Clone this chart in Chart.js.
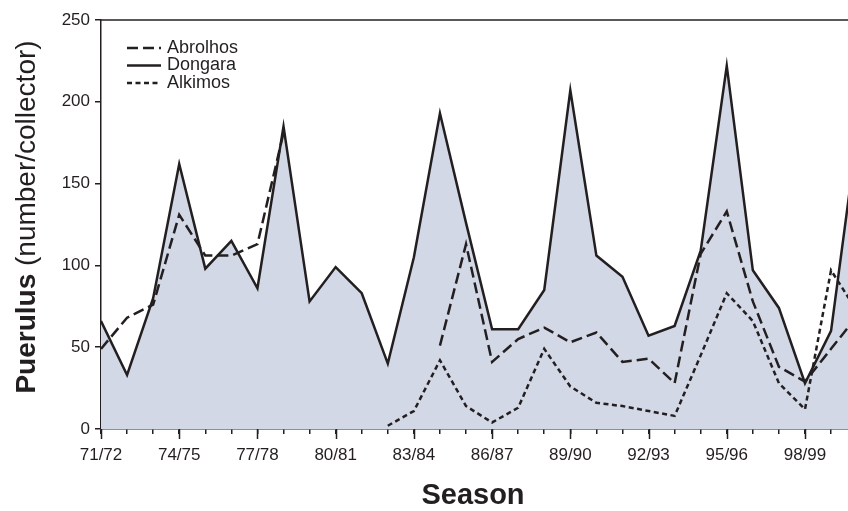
<!DOCTYPE html>
<html>
<head>
<meta charset="utf-8">
<script src="https://cdn.jsdelivr.net/npm/chart.js@4"></script>
<style>
  html, body { margin: 0; padding: 0; background: #ffffff; }
  #wrap { width: 848px; height: 511px; }
</style>
</head>
<body>
<div id="wrap"><canvas id="c" width="848" height="511"></canvas></div>
<script>
// Settlement seasons, 1971/72 to 2000/01
const seasons = ['71/72','72/73','73/74','74/75','75/76','76/77','77/78','78/79','79/80','80/81',
                 '81/82','82/83','83/84','84/85','85/86','86/87','87/88','88/89','89/90','90/91',
                 '91/92','92/93','93/94','94/95','95/96','96/97','97/98','98/99','99/00','00/01'];

// Mean puerulus catch per collector at each site (null = not sampled)
const dongara  = [66, 33, 80, 162, 98, 115, 86, 185, 78, 99,
                  83, 40, 105, 193, 126, 61, 61, 85, 207, 106,
                  93, 57, 63, 109, 222, 97, 74, 28, 60, 180];
const abrolhos = [49, 68, 76, 131, 106, 106, 113, 181, null, null,
                  null, null, null, 51, 113, 41, 55, 62, 53, 59,
                  41, 43, 28, 107, 133, 78, 38, 29, 49, 69];
const alkimos  = [null, null, null, null, null, null, null, null, null, null,
                  null, 2, 11, 42, 14, 4, 13, 49, 26, 16,
                  14, 11, 8, 45, 83, 66, 28, 12, 97, 72];

const yTicks = [0, 50, 100, 150, 200, 250];
const labelEvery = 3;

const INK = '#231f20';
const FILL = 'rgb(211,216,230)';
const FONT = "'Liberation Sans', Arial, Helvetica, sans-serif";

const toPoints = arr => arr.map((v, i) => ({ x: i, y: v }));

const series = [
  { label: 'Abrolhos', data: abrolhos, dash: [11, 5] },
  { label: 'Alkimos',  data: alkimos,  dash: [5, 3.5] },
  { label: 'Dongara',  data: dongara,  dash: [], fill: true }
];

// Frame, longer ticks at labelled seasons, in-plot legend and axis titles
const decorations = {
  id: 'decorations',
  afterDraw(chart) {
    const { ctx, chartArea: a, scales: { x } } = chart;
    ctx.save();
    ctx.strokeStyle = INK;
    ctx.lineWidth = 1.5;
    ctx.beginPath();
    ctx.moveTo(a.left, a.top);
    ctx.lineTo(a.right, a.top);
    ctx.stroke();

    seasons.forEach((s, i) => {
      if (i % labelEvery !== 0 || i > x.max) return;
      const px = Math.round(x.getPixelForValue(i)) + 0.5;
      ctx.beginPath();
      ctx.moveTo(px, a.bottom);
      ctx.lineTo(px, a.bottom + 10);
      ctx.stroke();
    });

    // legend
    const rows = [
      { text: 'Abrolhos', dash: [11, 5] },
      { text: 'Dongara',  dash: [] },
      { text: 'Alkimos',  dash: [5, 3.5] }
    ];
    ctx.font = '18px ' + FONT;
    ctx.fillStyle = INK;
    ctx.textBaseline = 'middle';
    ctx.textAlign = 'left';
    rows.forEach((r, k) => {
      const y = 48 + k * 17.5;
      ctx.lineWidth = 2.5;
      ctx.setLineDash(r.dash);
      ctx.beginPath();
      ctx.moveTo(a.left + 26, y);
      ctx.lineTo(a.left + 60, y);
      ctx.stroke();
      ctx.setLineDash([]);
      ctx.fillText(r.text, a.left + 66, y);
    });

    // x title
    ctx.font = 'bold 29px ' + FONT;
    ctx.textAlign = 'center';
    ctx.textBaseline = 'alphabetic';
    ctx.fillText('Season', 473, 504);

    // y title: bold term followed by regular units
    const boldPart = 'Puerulus';
    const normPart = ' (number/collector)';
    ctx.font = 'bold 28px ' + FONT;
    const wB = ctx.measureText(boldPart).width;
    ctx.font = '28px ' + FONT;
    const wN = ctx.measureText(normPart).width;
    const total = wB + wN;
    ctx.translate(35, 217);
    ctx.rotate(-Math.PI / 2);
    ctx.textAlign = 'left';
    ctx.font = 'bold 28px ' + FONT;
    ctx.fillText(boldPart, -total / 2, 0);
    ctx.font = '28px ' + FONT;
    ctx.fillText(normPart, -total / 2 + wB, 0);
    ctx.restore();
  }
};

new Chart(document.getElementById('c'), {
  type: 'line',
  data: {
    datasets: series.map(s => ({
      label: s.label,
      data: toPoints(s.data),
      borderColor: INK,
      borderWidth: 2.5,
      borderDash: s.dash,
      borderJoinStyle: 'miter',
      backgroundColor: FILL,
      fill: s.fill ? 'origin' : false,
      pointRadius: 0,
      tension: 0,
      spanGaps: false
    }))
  },
  options: {
    responsive: false,
    devicePixelRatio: 1,
    animation: false,
    events: [],
    layout: { padding: { top: 20, right: 0, bottom: 0, left: 0 } },
    plugins: {
      legend: { display: false },
      tooltip: { enabled: false },
      filler: { drawTime: 'beforeDatasetsDraw' }
    },
    scales: {
      x: {
        type: 'linear',
        min: 0,
        max: 28.65,
        afterFit: s => { s.height = 82; },
        grid: { drawOnChartArea: false, drawTicks: true, tickLength: 5, tickColor: INK, lineWidth: 1.5 },
        border: { display: true, color: INK, width: 1.5 },
        ticks: {
          stepSize: 1,
          includeBounds: false,
          autoSkip: false,
          maxRotation: 0,
          minRotation: 0,
          padding: 11,
          color: INK,
          font: { family: FONT, size: 17 },
          callback: v => (v % labelEvery === 0 && seasons[v] !== undefined) ? seasons[v] : ''
        }
      },
      y: {
        min: 0,
        max: 250,
        afterFit: s => { s.width = 101; },
        afterBuildTicks: s => { s.ticks = yTicks.map(v => ({ value: v })); },
        grid: { drawOnChartArea: false, drawTicks: true, tickLength: 6, tickColor: INK, lineWidth: 1.5 },
        border: { display: true, color: INK, width: 1.5 },
        ticks: {
          padding: 5,
          color: INK,
          font: { family: FONT, size: 17 }
        }
      }
    }
  },
  plugins: [decorations]
});
</script>
</body>
</html>
